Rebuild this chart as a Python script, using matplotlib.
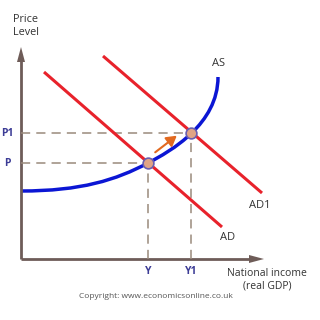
import matplotlib
matplotlib.use("Agg")
import matplotlib.pyplot as plt
from matplotlib.patches import FancyArrowPatch, PathPatch
from matplotlib.path import Path

# ---- data (chart units: origin at axis corner) ----
# AS curve as two cubic Bezier segments: anchor, control, control, anchor, ...
as_x = [0, 60, 95, 127, 150, 197, 197]
as_y = [68, 68, 79, 96, 108, 135, 182]
ad_x = [23, 201]
ad_y = [187, 32]
ad1_x = [82, 241]
ad1_y = [203, 66]
eq_x = [127, 170]          # Y, Y1
eq_y = [96, 126]           # P, P1
x_tick_labels = ["Y", "Y1"]
y_tick_labels = ["P", "P1"]

RED = "#e8222b"
BLUE = "#0b16d4"
AXIS = "#6e5c58"
DASH = "#9a8a7c"
LBL = "#3c3c96"
TXT = "#333333"
FONT = "Open Sans"

fig = plt.figure(figsize=(3.2, 3.2), dpi=100)
ax = fig.add_axes([0, 0, 1, 1])
ax.set_xlim(-21, 299)
ax.set_ylim(-61, 259)
ax.axis("off")

# axes with arrows
ax.plot([0, 0], [0, 200], color=AXIS, lw=2, solid_capstyle="butt")
ax.plot([0, 232], [0, 0], color=AXIS, lw=2, solid_capstyle="butt")
ax.fill([-4, 4, 0], [197, 197, 212], color=AXIS, lw=0)
ax.fill([228, 228, 243], [-4, 4, 0], color=AXIS, lw=0)

# dashed guide lines
for x, y in zip(eq_x, eq_y):
    ax.plot([0, x], [y, y], color=DASH, lw=1.1, dashes=(6, 4))
    ax.plot([x, x], [0, y], color=DASH, lw=1.1, dashes=(6, 4))

# curves
ax.plot(ad_x, ad_y, color=RED, lw=2.2, solid_capstyle="butt")
ax.plot(ad1_x, ad1_y, color=RED, lw=2.2, solid_capstyle="butt")
codes = [Path.MOVETO] + [Path.CURVE4] * (len(as_x) - 1)
as_path = Path(list(zip(as_x, as_y)), codes)
ax.add_patch(PathPatch(as_path, facecolor="none", edgecolor=BLUE, lw=2.5,
                       capstyle="butt"))

# shift arrow
arr = FancyArrowPatch((eq_x[0] + 5, eq_y[0] + 9), (eq_x[1] - 12, eq_y[1] - 1),
                      arrowstyle="-|>,head_length=6,head_width=3.5",
                      color="#e2691f", lw=1.5, mutation_scale=1)
ax.add_patch(arr)

# equilibrium points
ax.scatter(eq_x, eq_y, s=60, facecolor="#e0a485", edgecolor="#6a5fb0",
           linewidth=1.2, zorder=5)

# labels
for x, lab in zip(eq_x, x_tick_labels):
    ax.text(x, -13, lab, color=LBL, fontsize=7.5, fontweight="bold",
            ha="center", va="center", family=FONT)
for y, lab in zip(eq_y, y_tick_labels):
    ax.text(-14, y, lab, color=LBL, fontsize=7.5, fontweight="bold",
            ha="center", va="center", family=FONT)

ax.text(5, 233, "Price\nLevel", color=TXT, fontsize=7.8, ha="center",
        va="center", family=FONT, linespacing=1.25)
ax.text(246, -21, "National income\n(real GDP)", color=TXT, fontsize=7.5,
        ha="center", va="center", family=FONT, linespacing=1.2)
ax.text(198, 195, "AS", color=TXT, fontsize=8, ha="center", va="center",
        family=FONT)
ax.text(239, 54, "AD1", color=TXT, fontsize=8, ha="center", va="center",
        family=FONT)
ax.text(207, 22, "AD", color=TXT, fontsize=8, ha="center", va="center",
        family=FONT)
ax.text(135, -37, "Copyright: www.economicsonline.co.uk", color="#555555",
        fontsize=6, ha="center", va="center", family=FONT)

fig.savefig("out.png", dpi=100)
